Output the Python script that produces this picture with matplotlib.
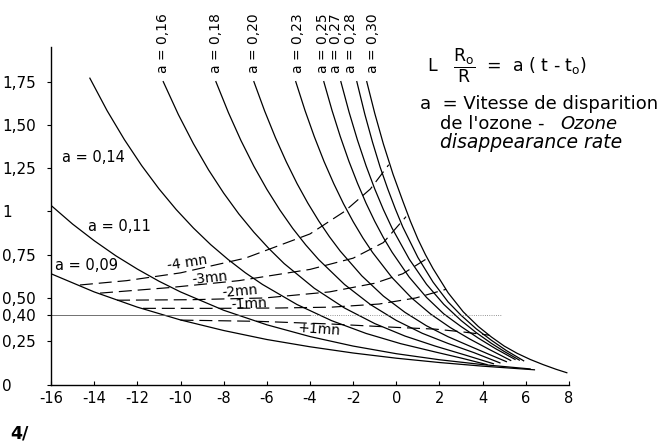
"""Ozone disappearance curves L(R0/R) = a (t - t0) with time-offset isolines."""

import matplotlib.pyplot as plt

plt.rcParams["font.family"] = ["DejaVu Sans"]
plt.rcParams["mathtext.fontset"] = "dejavusans"

# solid curves, one per disappearance rate a
a09_x = [-16, -14, -12, -10, -8, -6, -4, -2, 0, 2, 4, 6.4]
a09_y = [0.64, 0.535, 0.447, 0.373, 0.312, 0.260, 0.218, 0.182, 0.152, 0.127, 0.106, 0.085]
a11_x = [-16, -15, -14, -13, -12, -11, -10, -8, -6, -4, -2, 0, 2, 4, 6.2]
a11_y = [1.035, 0.927, 0.831, 0.744, 0.667, 0.597, 0.535, 0.429, 0.345, 0.277, 0.222,
         0.178, 0.143, 0.115, 0.090]
a14_x = [-14.2, -13.4, -12.6, -11.8, -11.0, -10.2, -9.4, -8.6, -7.8, -7.0, -6.2, -4.6,
         -3.0, -1.4, 0.2, 1.8, 3.0, 4.2]
a14_y = [1.77, 1.582, 1.415, 1.265, 1.131, 1.011, 0.904, 0.808, 0.723, 0.646, 0.578, 0.462,
         0.369, 0.295, 0.236, 0.188, 0.153, 0.115]
a16_x = [-10.8, -10.1, -9.4, -8.7, -8.0, -7.3, -6.6, -5.9, -5.2, -3.8, -2.4, -1.0, 0.4,
         1.8, 3.2, 4.5]
a16_y = [1.75, 1.560, 1.391, 1.240, 1.106, 0.986, 0.880, 0.785, 0.699, 0.556, 0.442, 0.352,
         0.280, 0.222, 0.170, 0.120]
a18_x = [-8.36, -7.78, -7.2, -6.6, -6.0, -5.4, -4.8, -4.2, -3.6, -2.4, -1.2, 0.0, 1.2,
         2.4, 3.6, 4.8]
a18_y = [1.75, 1.571, 1.410, 1.261, 1.128, 1.009, 0.902, 0.807, 0.722, 0.578, 0.462, 0.370,
         0.296, 0.237, 0.184, 0.125]
a20_x = [-6.6, -6.1, -5.6, -5.1, -4.6, -4.1, -3.6, -3.1, -2.6, -1.6, -0.6, 0.4, 1.4, 2.4,
         3.4, 4.3, 5.1]
a20_y = [1.75, 1.580, 1.426, 1.287, 1.161, 1.048, 0.946, 0.854, 0.771, 0.628, 0.511, 0.417,
         0.339, 0.276, 0.222, 0.174, 0.132]
a23_x = [-4.66, -4.23, -3.8, -3.35, -2.9, -2.45, -2.0, -1.55, -1.1, -0.2, 0.7, 1.6, 2.5,
         3.4, 4.3, 5.3]
a23_y = [1.75, 1.583, 1.432, 1.289, 1.161, 1.045, 0.941, 0.847, 0.763, 0.618, 0.501, 0.406,
         0.329, 0.263, 0.203, 0.139]
a25_x = [-3.36, -2.98, -2.6, -2.2, -1.8, -1.4, -1.0, -0.6, -0.2, 0.6, 1.4, 2.2, 3.0, 3.8,
         4.6, 5.5]
a25_y = [1.75, 1.584, 1.434, 1.291, 1.163, 1.047, 0.943, 0.849, 0.765, 0.620, 0.503, 0.408,
         0.335, 0.268, 0.207, 0.145]
a27_x = [-2.57, -2.19, -1.8, -1.4, -1.0, -0.6, -0.2, 0.6, 1.4, 2.2, 3.0, 3.7, 4.4, 5.0, 5.7]
a27_y = [1.75, 1.574, 1.412, 1.263, 1.130, 1.011, 0.904, 0.724, 0.579, 0.463, 0.370, 0.300,
         0.238, 0.191, 0.141]
a28_x = [-1.83, -1.46, -1.1, -0.75, -0.4, -0.05, 0.3, 1.0, 1.7, 2.4, 3.0, 3.7, 4.4, 5.1, 5.9]
a28_y = [1.75, 1.562, 1.399, 1.256, 1.131, 1.016, 0.910, 0.734, 0.592, 0.477, 0.400, 0.322,
         0.256, 0.196, 0.137]
a30_x = [-1.37, -1.0, -0.6, -0.15, 0.3, 0.65, 1.0, 1.35, 1.7, 2.4, 3.1, 3.8, 4.4, 5.0, 5.6,
         6.2, 6.8, 7.4, 7.9]
a30_y = [1.75, 1.567, 1.39, 1.214, 1.06, 0.944, 0.84, 0.750, 0.67, 0.53, 0.42, 0.335, 0.275,
         0.222, 0.18, 0.145, 0.115, 0.088, 0.068]

# dashed isolines for shifted t0
m4_x = [-14.66, -12.5, -10.0, -7.0, -4.0, -2.4, -1.2, -0.35]
m4_y = [0.575, 0.60, 0.645, 0.73, 0.87, 1.0, 1.13, 1.27]
m3_x = [-13.73, -10.5, -7.3, -4.0, -2.0, -0.6, 0.45]
m3_y = [0.528, 0.56, 0.60, 0.665, 0.73, 0.82, 0.97]
m2_x = [-12.94, -9.5, -6.1, -3.1, -1.0, 0.3, 1.41]
m2_y = [0.487, 0.49, 0.50, 0.535, 0.585, 0.64, 0.727]
m1_x = [-11.74, -8.5, -5.5, -3.0, -0.8, 0.9, 2.3]
m1_y = [0.44, 0.44, 0.442, 0.447, 0.465, 0.50, 0.55]
p1_x = [-10.0, -6.4, -3.1, 0.0, 1.8, 3.0, 4.3]
p1_y = [0.372, 0.365, 0.35, 0.33, 0.32, 0.305, 0.285]

xticks = list(range(-16, 10, 2))
xtick_labels = ["-16", "-14", "-12", "-10", "-8", "-6", "-4", "-2", "0", "2", "4", "6", "8"]
yticks = [0, 0.25, 0.40, 0.50, 0.75, 1, 1.25, 1.50, 1.75]
ytick_labels = ["0", "0,25", "0,40", "0,50", "0,75", "1", "1,25", "1,50", "1,75"]

curves = [
    (a09_x, a09_y), (a11_x, a11_y), (a14_x, a14_y), (a16_x, a16_y),
    (a18_x, a18_y), (a20_x, a20_y), (a23_x, a23_y), (a25_x, a25_y),
    (a27_x, a27_y), (a28_x, a28_y), (a30_x, a30_y),
]
isolines = [(m4_x, m4_y), (m3_x, m3_y), (m2_x, m2_y), (m1_x, m1_y), (p1_x, p1_y)]

fig = plt.figure(figsize=(6.59, 4.44), dpi=100)
ax = fig.add_axes([0.0774, 0.1340, 0.7860, 0.7601])
ax.set_xlim(-16, 8)
ax.set_ylim(0, 1.95)

for xs, ys in curves:
    ax.plot(xs, ys, color="black", lw=0.9, solid_joinstyle="round")
for xs, ys in isolines:
    ax.plot(xs, ys, color="black", lw=0.85, dashes=(11, 5))

# reference level at 0.40
ax.plot([-16, -4], [0.40, 0.40], color="0.35", lw=0.6)
ax.plot([-4, 4.9], [0.40, 0.40], color="0.45", lw=0.6, ls=":")

for side in ("top", "right"):
    ax.spines[side].set_visible(False)
for side in ("left", "bottom"):
    ax.spines[side].set_linewidth(1.0)

ax.set_xticks(xticks)
ax.set_xticklabels(xtick_labels, fontsize=10.5)
ax.tick_params(axis="x", direction="in", length=3, pad=5)
ax.set_yticks(yticks)
ax.set_yticklabels(ytick_labels, fontsize=11)
ax.tick_params(axis="y", direction="out", length=3, pad=32)
for lbl in ax.get_yticklabels():
    lbl.set_horizontalalignment("left")

# curve labels
ax.text(-15.5, 1.31, "a = 0,14", fontsize=10.5, va="center")
ax.text(-14.3, 0.913, "a = 0,11", fontsize=10.5, va="center")
ax.text(-15.8, 0.687, "a = 0,09", fontsize=10.5, va="center")
top_labels = ["a = 0,16", "a = 0,18", "a = 0,20", "a = 0,23",
              "a = 0,25", "a = 0,27", "a = 0,28", "a = 0,30"]
top_pos = [-10.8, -8.36, -6.6, -4.56, -3.4, -2.8, -2.1, -1.1]
for lab, xp in zip(top_labels, top_pos):
    ax.text(xp, 1.80, lab, rotation=90, ha="center", va="bottom",
            fontsize=10, clip_on=False)

ax.text(-9.7, 0.70, "-4 mn", fontsize=10, rotation=9, ha="center", va="center")
ax.text(-8.65, 0.617, "-3mn", fontsize=10, rotation=6, ha="center", va="center")
ax.text(-7.25, 0.54, "-2mn", fontsize=10, rotation=5, ha="center", va="center")
ax.text(-6.8, 0.467, "-1mn", fontsize=10, rotation=3, ha="center", va="center")
ax.text(-3.6, 0.32, "+1mn", fontsize=10, rotation=-4, ha="center", va="center")

# formula and legend text
fig.text(427 / 659, 1 - 66 / 444,
         r"L   $\dfrac{\mathrm{R_o}}{\mathrm{R}}$  =  a ( t - t$_\mathrm{o}$)",
         fontsize=12.5, va="center")
fig.text(420 / 659, 1 - 104 / 444, "a  = Vitesse de disparition",
         fontsize=13, va="center")
fig.text(440 / 659, 1 - 124 / 444, "de l'ozone -", fontsize=13, va="center")
fig.text(560 / 659, 1 - 124 / 444, "Ozone", fontsize=13, va="center", style="italic")
fig.text(440 / 659, 1 - 143 / 444, "disappearance rate",
         fontsize=13.5, va="center", style="italic")

fig.text(10 / 659, 1 - 433 / 444, "4/", fontsize=12.5, weight="bold", va="center")

fig.savefig("out.png", dpi=100)
